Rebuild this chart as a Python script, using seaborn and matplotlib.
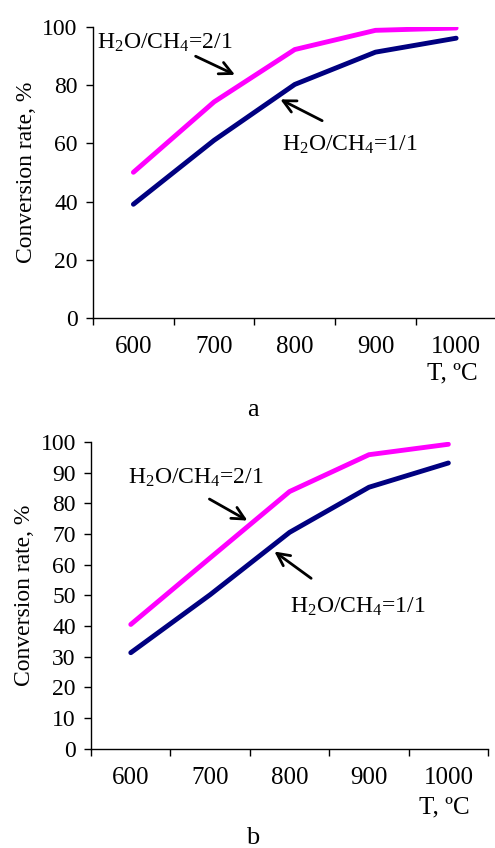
import matplotlib
matplotlib.use("Agg")
import matplotlib.pyplot as plt
import seaborn as sns
import pandas as pd
import numpy as np

temps = ["600", "700", "800", "900", "1000"]
a_ratio_21 = [50.1, 74.3, 92.3, 98.9, 99.7]
a_ratio_11 = [39.1, 61.1, 80.3, 91.4, 96.2]
b_ratio_21 = [40.5, 62.2, 83.8, 95.8, 99.2]
b_ratio_11 = [31.3, 50.2, 70.5, 85.2, 93.1]
label_21 = r"H$_2$O/CH$_4$=2/1"
label_11 = r"H$_2$O/CH$_4$=1/1"

sns.set_style("ticks")
plt.rcParams["font.family"] = ["Liberation Serif", "DejaVu Serif"]
plt.rcParams["mathtext.fontset"] = "custom"
plt.rcParams["mathtext.rm"] = "Liberation Serif"
plt.rcParams["mathtext.it"] = "Liberation Serif"
plt.rcParams["mathtext.bf"] = "Liberation Serif"
plt.rcParams["text.color"] = "black"
plt.rcParams["axes.labelcolor"] = "black"
plt.rcParams["xtick.color"] = "black"
plt.rcParams["ytick.color"] = "black"

FS = 17
fig = plt.figure(figsize=(4.95, 8.48), dpi=100)
ax_a = fig.add_axes([0.188, 0.625, 0.815, 0.343])
ax_b = fig.add_axes([0.184, 0.117, 0.802, 0.362])

def panel(ax, v21, v11, yticks, ann):
    df = pd.DataFrame({"T": list(range(len(temps))) * 2,
                       "val": v21 + v11,
                       "s": [label_21] * len(temps) + [label_11] * len(temps)})
    sns.lineplot(data=df, x="T", y="val", hue="s",
                 palette={label_21: "#FF00FF", label_11: "#000080"},
                 linewidth=3.5, legend=False, ax=ax, solid_capstyle="round")
    ax.set_xlim(-0.5, len(temps) - 0.5)
    ax.set_ylim(0, 100)
    ax.set_xticks(np.arange(-0.5, len(temps), 1.0))
    ax.set_xticklabels([])
    ax.set_xticks(range(len(temps)), minor=True)
    ax.set_xticklabels(temps, minor=True, fontsize=18)
    ax.tick_params(axis="x", which="minor", length=0, pad=13)
    ax.tick_params(axis="x", which="major", length=5, width=1, direction="out")
    ax.set_yticks(yticks)
    ax.set_yticklabels([str(t) for t in yticks], fontsize=FS)
    ax.tick_params(axis="y", length=5, width=1, direction="out", pad=6)
    for s in ["top", "right"]:
        ax.spines[s].set_visible(False)
    for s in ["left", "bottom"]:
        ax.spines[s].set_color("black")
        ax.spines[s].set_linewidth(1)
    ax.set_xlabel("")
    ax.set_ylabel("Conversion rate, %", fontsize=FS, labelpad=4)
    ax.text(3.95, -0.19, "T, ºC", transform=ax.get_xaxis_transform(),
            ha="center", va="center", fontsize=18)
    (t21, a21t, a21h), (t11, a11t, a11h) = ann
    ax.text(t21[0], t21[1], label_21, ha="left", va="center", fontsize=FS)
    ax.text(t11[0], t11[1], label_11, ha="left", va="center", fontsize=FS)
    for tail, head in [(a21t, a21h), (a11t, a11h)]:
        ax.annotate("", xy=head, xytext=tail,
                    arrowprops=dict(arrowstyle="->,head_length=0.9,head_width=0.45",
                                    color="black", lw=2))

panel(ax_a, a_ratio_21, a_ratio_11, list(range(0, 101, 20)),
      [((-0.45, 94.5), (0.74, 90.4), (1.29, 83.2)),
       ((1.84, 59.5), (2.37, 67.4), (1.79, 75.6))])
panel(ax_b, b_ratio_21, b_ratio_11, list(range(0, 101, 10)),
      [((-0.03, 88.3), (0.96, 81.8), (1.50, 73.9)),
       ((2.01, 46.3), (2.30, 55.0), (1.78, 64.8))])

fig.text(253 / 495, 1 - 410 / 848, "a", ha="center", va="center", fontsize=19)
fig.text(253 / 495, 1 - 838 / 848, "b", ha="center", va="center", fontsize=19)

fig.savefig("out.png", dpi=100)
